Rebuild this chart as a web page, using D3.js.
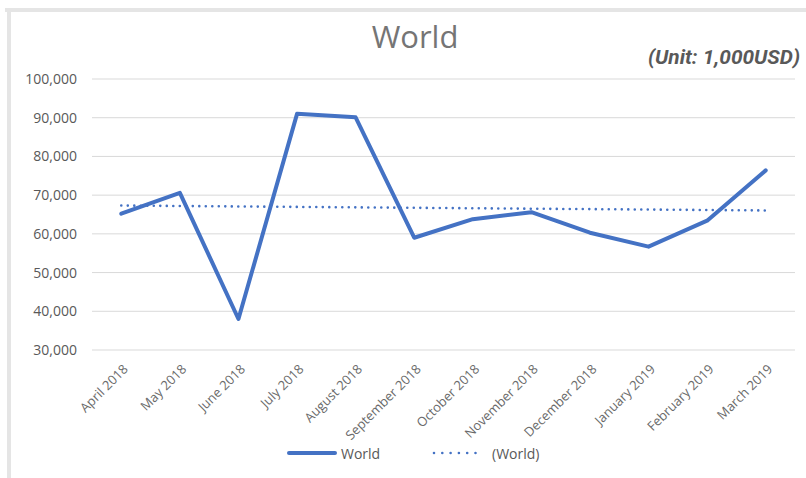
<!DOCTYPE html>
<html>
<head>
<meta charset="utf-8">
<script src="https://cdn.jsdelivr.net/npm/d3@7"></script>
<style>
    body { margin: 0; background: #fff; }
    svg { display: block; }
</style>
</head>
<body>
<div id="chart"></div>
<script>
// months on the category axis
const months = ['April 2018', 'May 2018', 'June 2018', 'July 2018', 'August 2018', 'September 2018',
                'October 2018', 'November 2018', 'December 2018', 'January 2019', 'February 2019', 'March 2019'];

// World values, in 1,000 USD
const worldValues = [65200, 70600, 38000, 91000, 90100, 59000, 63800, 65600, 60300, 56700, 63400, 76400];

const yTicks = [30000, 40000, 50000, 60000, 70000, 80000, 90000, 100000];

const title = 'World';
const unitLabel = '(Unit: 1,000USD)';
const legendLabels = ['World', '(World)'];

const W = 806, H = 478;
const blue = '#4472c4';
const margin = { left: 92, right: 11, top: 79, bottom: 128 };

const svg = d3.select('#chart').append('svg').attr('width', W).attr('height', H);

// chart frame (grey strip on top and left)
svg.append('rect').attr('x', 5).attr('y', 8).attr('width', W).attr('height', 4).attr('fill', '#e5e5e5');
svg.append('rect').attr('x', 7).attr('y', 8).attr('width', 4).attr('height', H).attr('fill', '#e5e5e5');

const w = W - margin.left - margin.right,
      h = H - margin.top - margin.bottom;

let x = d3.scalePoint().domain(months).range([0, w]).padding(0.5),
    y = d3.scaleLinear().domain([30000, 100000]).range([h, 0]);

const g = svg.append('g').attr('transform', 'translate(' + margin.left + ',' + margin.top + ')');

// gridlines
g.append('g').attr('class', 'grid')
    .selectAll('line').data(yTicks).enter()
    .append('line')
    .attr('x1', 0).attr('x2', w)
    .attr('y1', (d) => y(d)).attr('y2', (d) => y(d))
    .attr('stroke', '#d9d9d9').attr('stroke-width', 1);

// y axis labels
const yAxis = g.append('g').attr('class', 'y-axis')
    .attr('transform', 'translate(-15,0)')
    .call(d3.axisLeft(y).tickValues(yTicks).tickSize(0).tickPadding(0).tickFormat(d3.format(',')));
yAxis.select('.domain').remove();
yAxis.selectAll('text')
    .attr('fill', '#595959')
    .style('font-family', '"Open Sans", sans-serif')
    .style('font-size', '14px');

// x axis labels, rotated
const xAxis = g.append('g').attr('class', 'x-axis')
    .attr('transform', 'translate(0,' + h + ')')
    .call(d3.axisBottom(x).tickSize(0).tickPadding(0));
xAxis.select('.domain').remove();
xAxis.selectAll('text')
    .attr('fill', '#6a6a6a')
    .style('font-family', '"Open Sans", sans-serif')
    .style('font-size', '13px')
    .attr('text-anchor', 'end')
    .attr('dy', 0)
    .attr('transform', 'translate(7,20) rotate(-45)');

// linear trendline (least squares over the series, like Excel's)
const n = worldValues.length;
const meanX = (n - 1) / 2, meanY = d3.mean(worldValues);
const slope = d3.sum(worldValues, (v, i) => (i - meanX) * (v - meanY)) /
              d3.sum(worldValues, (v, i) => (i - meanX) * (i - meanX));
const trend = months.map((m, i) => ({ month: m, value: meanY + slope * (i - meanX) }));

const line = d3.line()
    .x((d) => x(d.month))
    .y((d) => y(d.value));

g.append('path')
    .datum(trend)
    .attr('d', line)
    .attr('fill', 'none')
    .attr('stroke', blue)
    .attr('stroke-width', 2.6)
    .attr('stroke-linecap', 'round')
    .attr('stroke-dasharray', '0 6.5');

g.append('path')
    .datum(months.map((m, i) => ({ month: m, value: worldValues[i] })))
    .attr('d', line)
    .attr('fill', 'none')
    .attr('stroke', blue)
    .attr('stroke-width', 4)
    .attr('stroke-linejoin', 'round')
    .attr('stroke-linecap', 'round');

// title and unit
svg.append('text')
    .attr('x', 415).attr('y', 48)
    .attr('text-anchor', 'middle')
    .attr('fill', '#757575')
    .style('font-family', '"Open Sans", sans-serif')
    .style('font-size', '31px')
    .text(title);

svg.append('text')
    .attr('x', 648).attr('y', 64)
    .attr('fill', '#595959')
    .attr('textLength', 152)
    .attr('lengthAdjust', 'spacingAndGlyphs')
    .style('font-family', '"Liberation Sans Narrow", "Roboto", sans-serif')
    .style('font-size', '20px')
    .style('font-weight', 'bold')
    .style('font-style', 'italic')
    .text(unitLabel);

// legend
const legend = svg.append('g').attr('class', 'legend');
legend.append('line')
    .attr('x1', 289).attr('x2', 335).attr('y1', 453).attr('y2', 453)
    .attr('stroke', blue).attr('stroke-width', 4).attr('stroke-linecap', 'round');
legend.append('line')
    .attr('x1', 434).attr('x2', 482).attr('y1', 453).attr('y2', 453)
    .attr('stroke', blue).attr('stroke-width', 2.6).attr('stroke-linecap', 'round')
    .attr('stroke-dasharray', '0 8.3');
legend.selectAll('text.lbl').data(legendLabels).enter()
    .append('text')
    .attr('class', 'lbl')
    .attr('x', (d, i) => i ? 492 : 341)
    .attr('y', 459)
    .attr('fill', '#595959')
    .style('font-family', '"Open Sans", sans-serif')
    .style('font-size', '14px')
    .text((d) => d);
</script>
</body>
</html>
